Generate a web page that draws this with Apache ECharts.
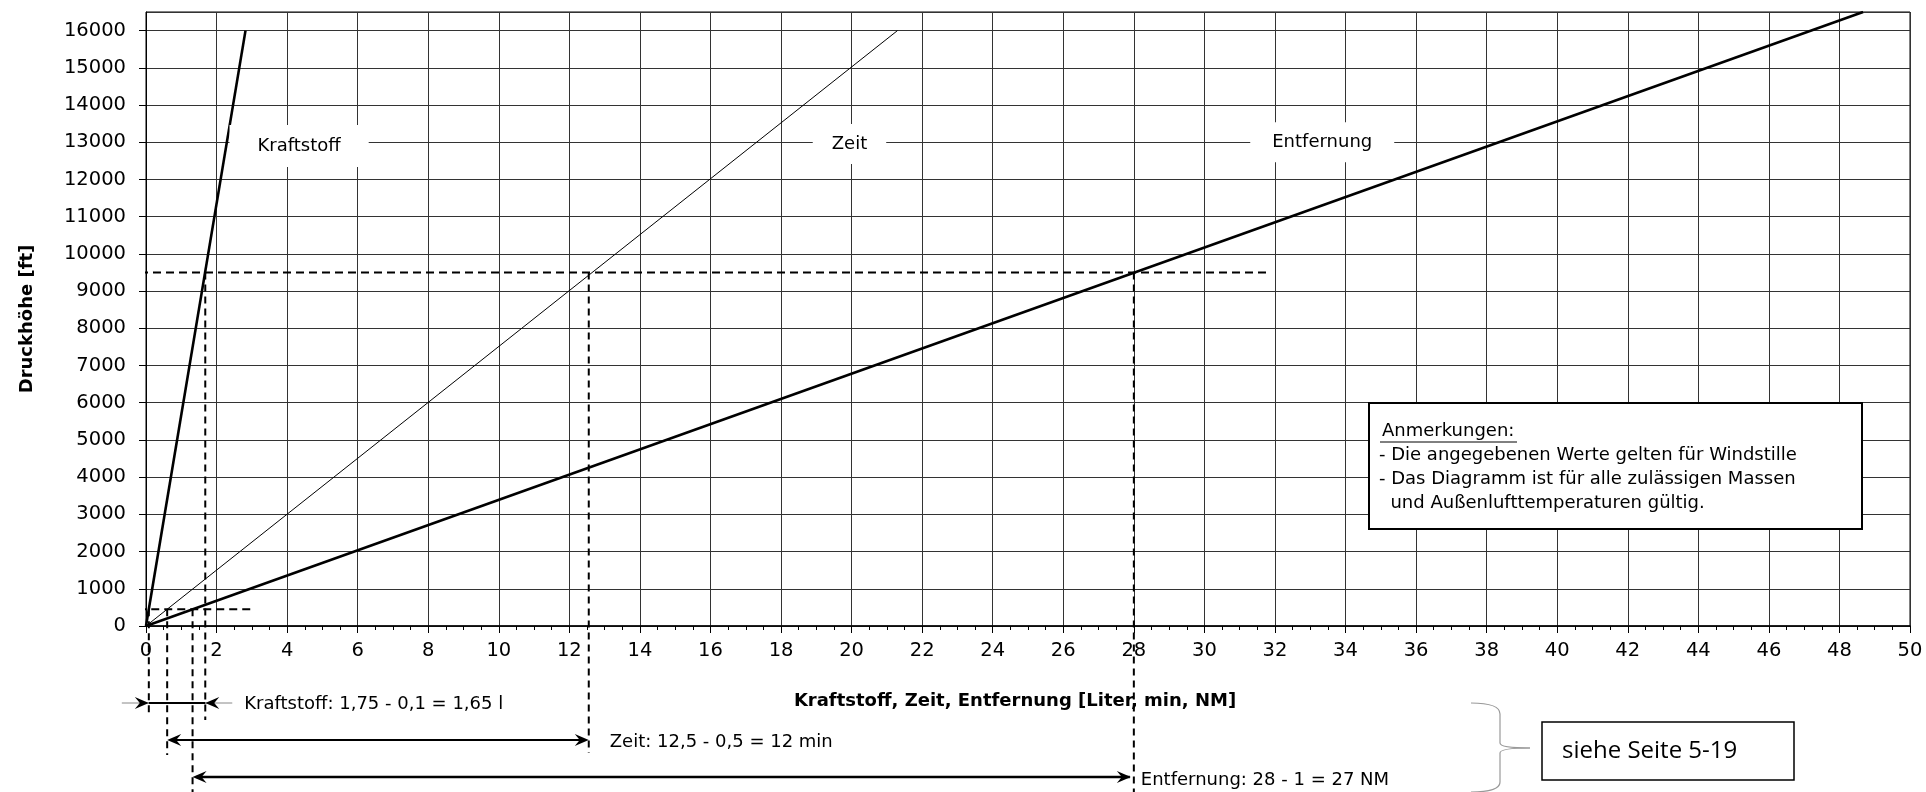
<!DOCTYPE html>
<html>
<head>
<meta charset="utf-8">
<script src="https://cdn.jsdelivr.net/npm/echarts@6/dist/echarts.min.js"></script>
<style>
html,body{margin:0;padding:0;background:#fff;}
#chart{width:1926px;height:792px;}
</style>
</head>
<body>
<div id="chart"></div>
<script>
// ---------- data ----------
const seriesNames = ['Kraftstoff', 'Zeit', 'Entfernung'];
const kraftstoffLine = [[0, 0], [2.82, 16000]];
const zeitLine = [[0, 0], [21.3, 16000]];
const entfernungLine = [[0, 0], [48.67, 16500]];
const seriesLabelPos = [[4.34, 12900], [19.94, 12950], [33.34, 13000]];

const readAltitudes = [450, 9500];          // start / cruise altitude [ft]
const kraftstoffRead = [0.08, 1.68];
const zeitRead = [0.6, 12.55];
const entfernungRead = [1.32, 28];
const guide9500 = [[-0.17, 9500], [31.8, 9500]];
const guide450 = [[-0.22, 450], [3.06, 450]];

const resultTexts = [
  'Kraftstoff: 1,75 - 0,1 = 1,65 l',
  'Zeit: 12,5 - 0,5 = 12 min',
  'Entfernung: 28 - 1 = 27 NM'
];
const noteLines = [
  'Anmerkungen:',
  '- Die angegebenen Werte gelten für Windstille',
  '- Das Diagramm ist für alle zulässigen Massen',
  '  und Außenlufttemperaturen gültig.'
];
const xTitle = 'Kraftstoff, Zeit, Entfernung [Liter, min, NM]';
const yTitle = 'Druckhöhe [ft]';
const refText = 'siehe Seite 5-19';

// ---------- chart ----------
const FONT = '"DejaVu Sans", "Liberation Sans", sans-serif';
const chart = echarts.init(document.getElementById('chart'), null, {renderer: 'canvas'});

const lineSeries = (data, w) => ({
  type: 'line', data: data, symbol: 'none', animation: false, z: 5,
  lineStyle: {color: '#000', width: w}
});
const dashSeries = (data) => ({
  type: 'line', data: data, symbol: 'none', animation: false, clip: false, z: 4,
  lineStyle: {color: '#000', width: 2, type: [8, 5]}
});

chart.setOption({
  animation: false,
  grid: {left: 146, right: 16, top: 12, bottom: 166, show: true, borderColor: '#000', borderWidth: 1},
  xAxis: {
    type: 'value', min: 0, max: 50, interval: 2,
    name: xTitle, nameLocation: 'middle', nameGap: 66,
    nameTextStyle: {fontFamily: FONT, fontSize: 18, fontWeight: 'bold', color: '#000', padding: [0, 26, 0, 0]},
    axisLine: {show: true, onZero: false, lineStyle: {color: '#000', width: 1.5}},
    axisTick: {show: true, length: 7, lineStyle: {color: '#000', width: 1}},
    minorTick: {show: true, splitNumber: 4, length: 4, lineStyle: {color: '#000', width: 1}},
    axisLabel: {fontFamily: FONT, fontSize: 19.5, color: '#000', margin: 15, formatter: v => String(v)},
    splitLine: {show: true, lineStyle: {color: '#333', width: 1}}
  },
  yAxis: {
    type: 'value', min: 0, max: 16500, interval: 1000,
    name: yTitle, nameLocation: 'middle', nameGap: 110, nameRotate: 90,
    nameTextStyle: {fontFamily: FONT, fontSize: 18, fontWeight: 'bold', color: '#000'},
    axisLine: {show: true, onZero: false, lineStyle: {color: '#000', width: 1}},
    axisTick: {show: true, length: 7, lineStyle: {color: '#000', width: 1}},
    axisLabel: {fontFamily: FONT, fontSize: 19.5, color: '#000', margin: 20, showMaxLabel: false,
      formatter: v => String(v)},
    splitLine: {show: true, lineStyle: {color: '#333', width: 1}}
  },
  series: [
    Object.assign(lineSeries(kraftstoffLine, 2.6), {name: seriesNames[0]}),
    Object.assign(lineSeries(zeitLine, 1), {name: seriesNames[1]}),
    Object.assign(lineSeries(entfernungLine, 2.6), {name: seriesNames[2]}),
    dashSeries(guide9500),
    dashSeries(guide450),
    {
      type: 'scatter', symbolSize: 0, animation: false, z: 6,
      itemStyle: {opacity: 1, color: '#fff'},
      emphasis: {disabled: true},
      data: seriesLabelPos.map((p, i) => ({
        value: p, name: seriesNames[i],
        label: {padding: [[12, 28], [11, 19], [11, 22]][i]}
      })),
      label: {
        show: true, position: 'inside', formatter: '{b}', opacity: 1,
        fontFamily: FONT, fontSize: 18, color: '#000', backgroundColor: '#fff',
        textBorderWidth: 0, textBorderColor: 'transparent'
      }
    }
  ]
});

// ---------- annotations below the axis (x from the axis scale) ----------
const px = (x, y) => chart.convertToPixel({gridIndex: 0}, [x, y]);
const g = [];
const dash = (x0, y0, x1, y1) => g.push({type: 'line', z: 50, shape: {x1: x0, y1: y0, x2: x1, y2: y1},
  style: {stroke: '#000', lineWidth: 2, lineDash: [7, 5]}});
const seg = (x0, y0, x1, y1, col, w) => g.push({type: 'line', z: 50, shape: {x1: x0, y1: y0, x2: x1, y2: y1},
  style: {stroke: col, lineWidth: w}});
const head = (tx, y, dir) => g.push({type: 'polygon', z: 51,
  shape: {points: [[tx, y], [tx - 14 * dir, y - 6], [tx - 9 * dir, y], [tx - 14 * dir, y + 6]]},
  style: {fill: '#000'}});
const txt = (x, y, s, font, align) => g.push({type: 'text', z: 52, x: x, y: y,
  style: {text: s, font: font, fill: '#000', textAlign: align || 'left', textVerticalAlign: 'middle'}});

const reads = [kraftstoffRead, zeitRead, entfernungRead];
const lowBottoms = [713, 755, 792];
const highBottoms = [720, 753, 792];
const rowY = [703, 740, 777];
reads.forEach((r, i) => {
  const p0 = px(r[0], readAltitudes[0]);
  const p1 = px(r[1], readAltitudes[1]);
  dash(p0[0], p0[1], p0[0], lowBottoms[i]);
  dash(p1[0], p1[1], p1[0], highBottoms[i]);
});

// Kraftstoff dimension (arrows pointing inward)
{
  const a = px(kraftstoffRead[0], 0)[0], b = px(kraftstoffRead[1], 0)[0], y = rowY[0];
  seg(a - 27, y, b + 27, y, '#888', 1);
  seg(a, y, b, y, '#000', 2);
  head(a, y, 1); head(b, y, -1);
  txt(b + 39, y + 1, resultTexts[0], '18px ' + FONT);
}
// Zeit
{
  const a = px(zeitRead[0], 0)[0], b = px(zeitRead[1], 0)[0], y = rowY[1];
  seg(a + 4, y, b - 4, y, '#000', 2);
  head(a, y, -1); head(b, y, 1);
  txt(b + 21, y + 2, resultTexts[1], '18px ' + FONT);
}
// Entfernung
{
  const a = px(entfernungRead[0], 0)[0], b = px(entfernungRead[1], 0)[0], y = rowY[2];
  seg(a + 4, y, b - 4, y, '#000', 2.5);
  head(a, y, -1); head(b - 3, y, 1);
  txt(b + 7, y + 3, resultTexts[2], '18px ' + FONT);
}

// notes box
g.push({type: 'rect', z: 60, shape: {x: 1369, y: 403, width: 493, height: 126},
  style: {fill: '#fff', stroke: '#000', lineWidth: 2}});
const noteX = [1382, 1379, 1379, 1379];
const noteY = [431, 455, 479, 503];
noteLines.forEach((s, i) => g.push({type: 'text', z: 61, x: noteX[i], y: noteY[i],
  style: {text: s, font: '18px ' + FONT, fill: '#000', textAlign: 'left', textVerticalAlign: 'middle'}}));
g.push({type: 'line', z: 61, shape: {x1: 1380, y1: 442, x2: 1517, y2: 442}, style: {stroke: '#000', lineWidth: 1}});

// brace + reference box
const braceStyle = {stroke: '#999', lineWidth: 1.2, fill: null};
const curve = (x1, y1, cx, cy, x2, y2) => g.push({type: 'bezierCurve', z: 60,
  shape: {x1: x1, y1: y1, cpx1: cx, cpy1: cy, x2: x2, y2: y2}, style: braceStyle});
const bline = (x1, y1, x2, y2) => g.push({type: 'line', z: 60,
  shape: {x1: x1, y1: y1, x2: x2, y2: y2}, style: braceStyle});
curve(1471, 703, 1500, 703, 1500, 714);
bline(1500, 714, 1500, 743);
curve(1500, 743, 1500, 748, 1530, 748);
curve(1530, 748, 1500, 748, 1500, 753);
bline(1500, 753, 1500, 782);
curve(1500, 782, 1500, 792, 1471, 792);
g.push({type: 'rect', z: 60, shape: {x: 1542, y: 722, width: 252, height: 58},
  style: {fill: '#fff', stroke: '#000', lineWidth: 1.5}});
g.push({type: 'text', z: 61, x: 1562, y: 751,
  style: {text: refText, font: '24px "Open Sans", sans-serif', fill: '#000', textAlign: 'left', textVerticalAlign: 'middle'}});

chart.setOption({graphic: g});
</script>
</body>
</html>
